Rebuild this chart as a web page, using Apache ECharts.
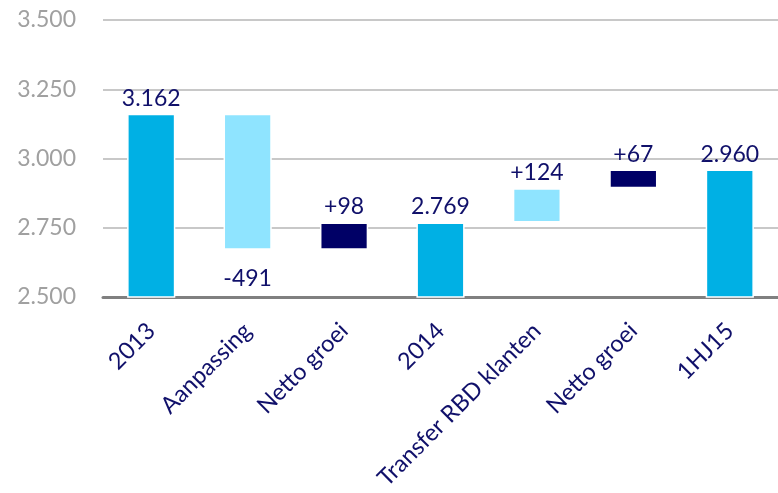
<!DOCTYPE html>
<html>
<head>
<meta charset="utf-8">
<script src="https://cdn.jsdelivr.net/npm/echarts@6/dist/echarts.min.js"></script>
<style>html,body{margin:0;padding:0;background:#fff}#c{width:778px;height:493px}</style>
</head>
<body>
<div id="c"></div>
<script>
const categories = ['2013', 'Aanpassing', 'Netto groei', '2014', 'Transfer RBD klanten', 'Netto groei', '1HJ15'];
const totals = [3162, null, null, 2769, null, null, 2960];
const deltas = [null, -491, 98, null, 124, 67, null];
const kinds = ['total', 'adj', 'growth', 'total', 'adj', 'growth', 'total'];
const yTicks = { min: 2500, max: 3500, interval: 250 };

const colorOf = { total: '#00B0E4', adj: '#8FE4FF', growth: '#000066' };
const fmt = v => {
  const s = String(Math.abs(v));
  return s.length > 3 ? s.slice(0, s.length - 3) + '.' + s.slice(s.length - 3) : s;
};

// waterfall: derive invisible base and visible heights from data
let running = 0;
const base = [], visible = [];
for (let i = 0; i < categories.length; i++) {
  if (totals[i] != null) {
    running = totals[i];
    base.push(0);
    visible.push(totals[i]);
  } else {
    const d = deltas[i];
    const prev = running;
    running = prev + d;
    base.push(Math.min(prev, running));
    visible.push(Math.abs(d));
  }
}

const FONT = 'Lato, "Open Sans", sans-serif';
const labelFont = { fontFamily: FONT, fontSize: 23, color: '#10106A' };

const visData = visible.map((v, i) => {
  const isTotal = totals[i] != null;
  const d = deltas[i];
  const txt = isTotal ? fmt(totals[i]) : (d > 0 ? '+' : '-') + fmt(d);
  return {
    value: v,
    itemStyle: { color: colorOf[kinds[i]] },
    label: {
      show: true,
      position: (!isTotal && d < 0) ? 'bottom' : 'top',
      distance: (!isTotal && d < 0) ? 17 : 4,
      formatter: () => txt
    }
  };
});

const chart = echarts.init(document.getElementById('c'), null, { renderer: 'canvas' });
chart.setOption({
  animation: false,
  grid: { left: 103, right: 0, top: 20, bottom: 196 },
  xAxis: {
    type: 'category',
    data: categories,
    axisLine: { lineStyle: { color: '#808080', width: 3 } },
    axisTick: { show: false },
    axisLabel: {
      rotate: 45, margin: 30, interval: 0,
      fontFamily: FONT, fontSize: 23.5, color: '#10106A'
    }
  },
  yAxis: {
    type: 'value',
    min: yTicks.min, max: yTicks.max, interval: yTicks.interval,
    axisLine: { show: false },
    axisTick: { show: false },
    splitLine: { lineStyle: { color: '#C8C8C8', width: 2 } },
    axisLabel: {
      margin: 27,
      fontFamily: FONT, fontSize: 23, color: '#A0A0A0',
      formatter: v => fmt(v)
    }
  },
  series: [
    {
      type: 'bar', stack: 'w', data: base, barWidth: '50%',
      itemStyle: { color: 'transparent' }, silent: true
    },
    {
      type: 'bar', stack: 'w', data: visData, barWidth: '50%',
      itemStyle: { borderColor: '#ffffff', borderWidth: 1.5 },
      label: labelFont
    }
  ]
});
</script>
</body>
</html>
